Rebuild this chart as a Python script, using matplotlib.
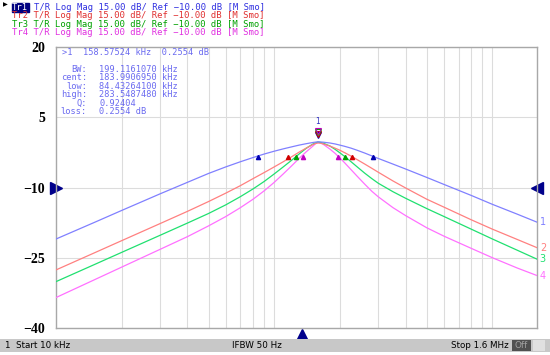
import numpy as np
import matplotlib.pyplot as plt
from matplotlib.patches import Rectangle

# frequency points (kHz)
freq_khz = [10, 15, 20, 30, 40, 50, 60, 70, 80, 90, 100, 110, 120, 130, 140, 150, 155, 158.6, 163,
            168, 180, 190, 200, 210, 225, 240, 260, 280, 300, 350, 400, 500, 600, 800, 1000, 1300, 1600]
tr1_db = [-21.0, -17.45, -14.9, -11.35, -8.9, -7.0, -5.6, -4.5, -3.6, -2.85, -2.25, -1.75, -1.33,
          -0.95, -0.65, -0.4, -0.3, -0.26, -0.28, -0.33, -0.5, -0.7, -0.95, -1.2, -1.6, -2.05, -2.65,
          -3.25, -3.8, -5.0, -6.05, -7.85, -9.35, -11.7, -13.6, -15.7, -17.4]
tr2_db = [-27.6, -23.95, -21.35, -17.7, -15.1, -13.0, -11.2, -9.6, -8.1, -6.8, -5.6, -4.5, -3.45,
          -2.45, -1.6, -0.85, -0.6, -0.5, -0.55, -0.7, -1.15, -1.6, -2.05, -2.55, -3.3, -4.05, -5.0,
          -5.9, -6.75, -8.6, -10.1, -12.5, -14.2, -16.9, -18.9, -21.1, -22.85]
tr3_db = [-30.1, -26.45, -23.85, -20.2, -17.6, -15.55, -13.7, -11.95, -10.3, -8.7, -7.1, -5.6, -4.2,
          -2.85, -1.65, -0.75, -0.45, -0.3, -0.38, -0.55, -1.15, -1.85, -2.6, -3.35, -4.5, -5.6, -6.95,
          -8.1, -9.1, -10.9, -12.3, -14.5, -16.2, -18.9, -21.0, -23.4, -25.3]
tr4_db = [-33.5, -29.7, -27.0, -23.2, -20.5, -18.2, -16.2, -14.3, -12.5, -10.7, -8.9, -7.1, -5.4,
          -3.8, -2.4, -1.2, -0.6, -0.3, -0.45, -0.8, -1.8, -2.7, -3.7, -4.7, -6.2, -7.6, -9.3,
          -10.8, -12.0, -14.3, -16.0, -18.6, -20.4, -23.0, -25.0, -27.2, -28.8]

traces = [tr1_db, tr2_db, tr3_db, tr4_db]
trace_names = ["Tr1", "Tr2", "Tr3", "Tr4"]
line_colors = ["#8080ff", "#ff8080", "#20e070", "#ff70ff"]
mark_colors = ["#0000b0", "#d00000", "#00a000", "#c000c0"]
head_colors = ["#3030e0", "#e03030", "#00a000", "#e030e0"]

# bandwidth markers (kHz)
bw_low = [84.43, 116, 126, 135.5]
bw_high = [283.55, 227, 211, 195]
marker_freq = 158.57524
marker_loss = 0.2554

yticks = [-40, -25, -10, 5, 20]
grid_khz = [20, 30, 40, 50, 60, 70, 80, 90, 100, 200, 300, 400, 500, 600, 700, 800, 900, 1000]

fig = plt.figure(figsize=(5.5, 3.55), dpi=100)
ax = fig.add_axes([56 / 550, 1 - 328 / 355, 481 / 550, 281 / 355])

f = np.array(freq_khz) * 1e3
for i, tr in enumerate(traces):
    ax.plot(f, tr, color=line_colors[i], lw=0.9, zorder=3 + (3 - i))
    ax.plot([bw_low[i] * 1e3, bw_high[i] * 1e3], [-3.5, -3.5], ls="none", marker="^",
            ms=3, color=mark_colors[i], zorder=8)
    ax.annotate(str(i + 1), (f[-1], tr[-1]), xytext=(2, 0), textcoords="offset points",
                color=line_colors[i], fontsize=7, va="center", ha="left",
                annotation_clip=False)

# marker 1 at the peak
for i in range(4):
    ax.plot(marker_freq * 1e3, 1.2 + 0.3 * i, marker="v", ms=5, mfc="none",
            mec=mark_colors[i], mew=0.8, zorder=9)
ax.text(marker_freq * 1e3, 3.2, "1", color="#3030c0", fontsize=5.5, ha="center",
        va="bottom", zorder=9)

ax.set_xscale("log")
ax.set_xlim(10e3, 1.6e6)
ax.set_ylim(-40, 20)
ax.set_xticks([g * 1e3 for g in grid_khz])
ax.set_xticks([], minor=True)
ax.set_xticklabels([])
ax.set_yticks(yticks)
ax.set_yticklabels([str(v).replace("-", "\u2212") for v in yticks],
                   family="Liberation Serif", fontweight="bold", fontsize=10)
ax.tick_params(length=0, pad=8)
ax.grid(True, color="#dcdcdc", lw=0.8)
for s in ax.spines.values():
    s.set_color("#a8a8a8")
    s.set_linewidth(1.0)

# reference position arrows
ax.plot(0, -10, marker=">", ms=8, color="#00008b", transform=ax.get_yaxis_transform(),
        clip_on=False)
ax.plot(1.0, -10, marker="<", ms=8, color="#00008b", transform=ax.get_yaxis_transform(),
        clip_on=False)
ax.plot(0.512, -0.025, marker="^", ms=8, color="#00008b", transform=ax.transAxes,
        clip_on=False)

# marker readout
mono = "DejaVu Sans Mono"
info_col = "#6a6af0"
ax.text(0.012, 0.997, ">1  158.57524 kHz  %.4f dB" % marker_loss, transform=ax.transAxes,
        family=mono, fontsize=6.2, color=info_col, va="top")
info_labels = ["BW:", "cent:", "low:", "high:", "Q:", "loss:"]
info_values = ["199.1161070 kHz", "183.9906950 kHz", "84.43264100 kHz",
               "283.5487480 kHz", "0.92404", "0.2554 dB"]
for k in range(6):
    yy = 0.937 - k * 0.0302
    ax.text(0.0645, yy, info_labels[k], transform=ax.transAxes, family=mono, fontsize=6.2,
            color=info_col, va="top", ha="right")
    ax.text(0.09, yy, info_values[k], transform=ax.transAxes, family=mono, fontsize=6.2,
            color=info_col, va="top", ha="left")

# trace header
head_rest = "T/R Log Mag 15.00 dB/ Ref \u221210.00 dB [M Smo]"
for i in range(4):
    yy = 1 - (3 + i * 8.4) / 355
    if i == 0:
        fig.text(12 / 550, yy, "Tr1", family=mono, fontsize=6.4, color="white", va="top",
                 bbox=dict(boxstyle="square,pad=0.05", fc="#000080", ec="#000080"))
        fig.text(34 / 550, yy, head_rest, family=mono, fontsize=6.4,
                 color=head_colors[i], va="top")
    else:
        fig.text(12 / 550, yy, trace_names[i] + " " + head_rest, family=mono, fontsize=6.4,
                 color=head_colors[i], va="top")
fig.text(3 / 550, 1 - 2 / 355, "\u25b6", fontsize=4.5, color="black", va="top")

# status bar
fig.patches.append(Rectangle((0, 3 / 355), 1, 13 / 355, transform=fig.transFigure,
                             fc="#c8c8c8", ec="none"))
fig.patches.append(Rectangle((512 / 550, 4 / 355), 19 / 550, 11 / 355,
                             transform=fig.transFigure, fc="#505050", ec="none"))
fig.patches.append(Rectangle((533 / 550, 4 / 355), 12 / 550, 11 / 355,
                             transform=fig.transFigure, fc="#e0e0e0", ec="none"))
sb_y = 9.5 / 355
fig.text(4 / 550, sb_y, "1", fontsize=6.3, va="center", family="DejaVu Sans")
fig.text(16 / 550, sb_y, "Start 10 kHz", fontsize=6.3, va="center", family="DejaVu Sans")
fig.text(232 / 550, sb_y, "IFBW 50 Hz", fontsize=6.3, va="center", family="DejaVu Sans")
fig.text(509 / 550, sb_y, "Stop 1.6 MHz", fontsize=6.3, va="center", ha="right",
         family="DejaVu Sans")
fig.text(521.5 / 550, sb_y, "Off", fontsize=6.3, va="center", ha="center", color="#a0a0a0",
         family="DejaVu Sans")

fig.savefig("out.png", dpi=100)
